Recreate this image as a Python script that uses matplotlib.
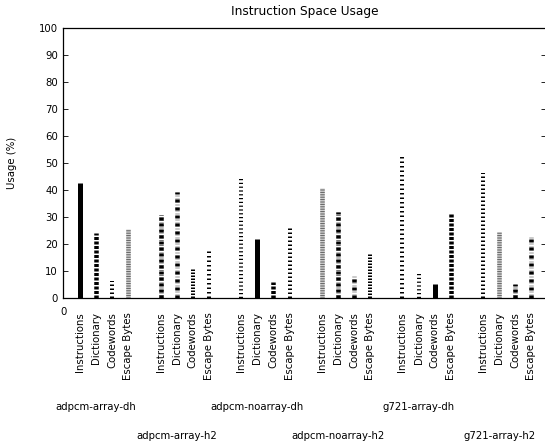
import matplotlib
matplotlib.use("Agg")
import matplotlib.pyplot as plt
from matplotlib.transforms import blended_transform_factory
import numpy as np

plt.rcParams['font.family'] = ['DejaVu Sans']
plt.rcParams['font.size'] = 7.3
plt.rcParams['lines.scale_dashes'] = False

benchmarks = ["adpcm-array-dh", "adpcm-array-h2", "adpcm-noarray-dh",
              "adpcm-noarray-h2", "g721-array-dh", "g721-array-h2"]
parts = ["Instructions", "Dictionary", "Codewords", "Escape Bytes"]

# usage (%) per benchmark, in the order of parts
instructions = [42.5, 31.0, 44.1, 40.6, 52.8, 46.2]
dictionary = [24.2, 39.1, 21.9, 31.7, 9.4, 24.6]
codewords = [6.4, 11.0, 6.0, 8.5, 5.1, 5.2]
escape_bytes = [25.7, 17.5, 26.4, 16.8, 31.6, 23.3]

PX = 0.72  # points per pixel at dpi 100

# fill patterns, cycled through bar by bar: layers of (colour, on px, off px, width px)
patterns = [
    [("black", None, None, 5)],
    [("black", 3, 1.5, 4.5)],
    [("#888888", 1, 3, 4), ("black", 1.5, 2.5, 4)],
    [("#d0d0d0", None, None, 4.5), ("#606060", 1, 1.4, 4.5)],
    [("#777777", 1, 1.5, 4.5), ("black", 3, 3, 4.5)],
    [("#999999", 1, 2, 4.5), ("black", 3, 5, 4.5)],
    [("black", 1.5, 1.5, 4)],
    [("black", 1.5, 3, 4)],
    [("black", 1.2, 2.6, 4)],
]

fig = plt.figure(figsize=(5.45, 4.44), dpi=100)
ax = fig.add_axes([63 / 545, 1 - 298 / 444, 483 / 545, 270 / 444])
name_tf = blended_transform_factory(ax.transData, fig.transFigure)

series = [instructions, dictionary, codewords, escape_bytes]
xs, labels = [], []
k = 0
for g, name in enumerate(benchmarks):
    for j, part in enumerate(parts):
        x = 5 * g + j + 1
        v = series[j][g]
        for color, on, off, w in patterns[k % len(patterns)]:
            ls = "solid" if on is None else (0, (on * PX, off * PX))
            ax.vlines(x, 0, v, colors=color, linewidth=w * PX,
                      linestyles=ls, capstyle="butt")
        xs.append(x)
        labels.append(part)
        k += 1
    # benchmark name under each group, alternating rows
    row_y = 407 if g % 2 == 0 else 436
    ax.text(5 * g + 2.0, 1 - row_y / 444, name, ha="center", va="center",
            transform=name_tf)

ax.set_xlim(-0.05, 29.9)
ax.set_ylim(0, 100)
ax.set_xticks(xs)
ax.set_xticklabels(labels, rotation=90, va="top", ha="center")
ax.tick_params(axis="x", length=0, pad=10)
ax.set_yticks(np.arange(0, 101, 10))
ax.tick_params(axis="y", direction="in", length=3.6, right=True, width=0.6)
ax.text(0, -0.05, "0", ha="center", va="center", transform=ax.get_xaxis_transform())

for s in ax.spines.values():
    s.set_linewidth(0.9)

ax.set_ylabel("Usage (%)", labelpad=16)
ax.set_title("Instruction Space Usage", pad=9)

fig.savefig("out.png", dpi=100)
